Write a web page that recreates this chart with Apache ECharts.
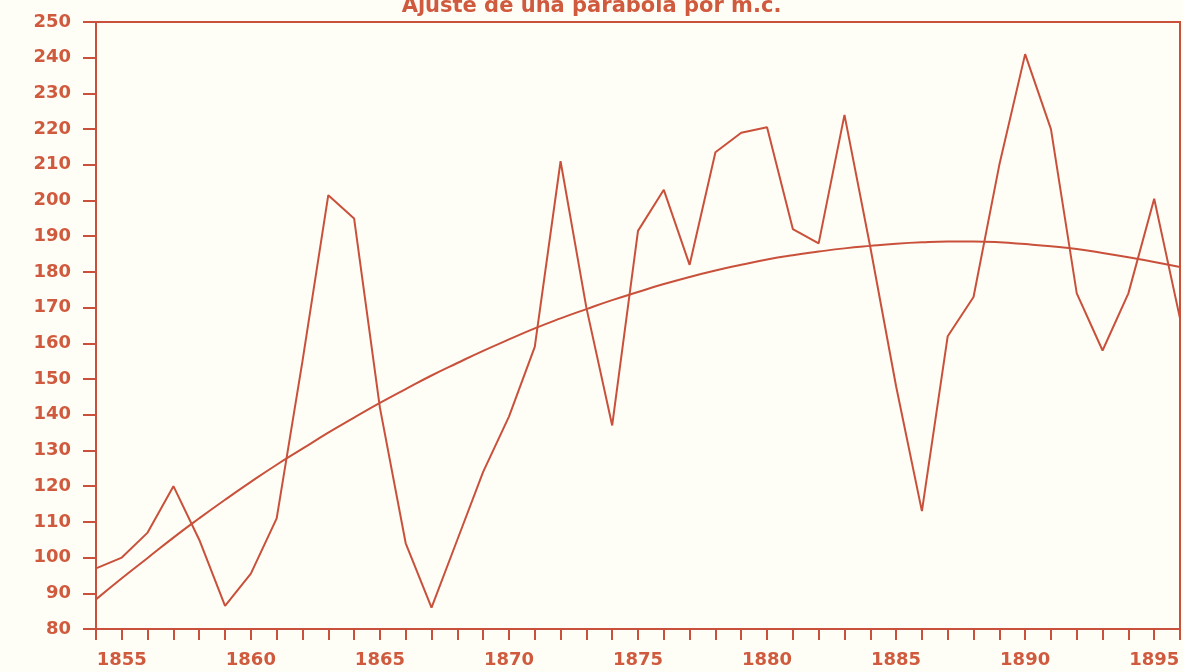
<!DOCTYPE html>
<html>
<head>
<meta charset="utf-8">
<title>Ajuste de una parábola por m.c.</title>
<script src="https://cdn.jsdelivr.net/npm/echarts@6/dist/echarts.min.js"></script>
<style>
  html, body { margin: 0; padding: 0; background: #fefdf6; }
  #main { width: 1183px; height: 672px; }
</style>
</head>
<body>
<div id="main"></div>
<script>
// años 1854 - 1896
var years = [1854, 1855, 1856, 1857, 1858, 1859, 1860, 1861, 1862, 1863,
  1864, 1865, 1866, 1867, 1868, 1869, 1870, 1871, 1872, 1873,
  1874, 1875, 1876, 1877, 1878, 1879, 1880, 1881, 1882, 1883,
  1884, 1885, 1886, 1887, 1888, 1889, 1890, 1891, 1892, 1893,
  1894, 1895, 1896];

// serie observada
var observed = [97, 100, 107, 120, 105, 86.5, 95.5, 111, 155, 201.5,
  195, 142, 104, 86, 105, 124, 139.5, 159, 211, 170,
  137, 191.5, 203, 182, 213.5, 219, 220.5, 192, 188, 224,
  187, 148, 113, 162, 173, 210, 241, 220, 174, 158,
  174, 200.5, 167];

// parábola ajustada
var fitted = [88.3, 94.2, 99.9, 105.6, 111, 116.2, 121.2, 126, 130.5, 135,
  139.2, 143.3, 147.2, 151, 154.5, 157.9, 161.1, 164.2, 167, 169.6,
  172.1, 174.4, 176.6, 178.6, 180.4, 182, 183.5, 184.7, 185.7, 186.6,
  187.3, 187.9, 188.3, 188.5, 188.5, 188.3, 187.8, 187.2, 186.4, 185.3,
  184.1, 182.8, 181.4];

var yMin = 80, yMax = 250, yStep = 10;
var labelStep = 5;

var lineColor = '#c9513b';
var textColor = '#cf5a3e';

var myChart = echarts.init(document.getElementById('main'));

myChart.setOption({
  backgroundColor: '#fefdf6',
  animation: false,
  title: {
    // el título sale cortado por arriba, como en la hoja escaneada
    text: 'Ajuste de una parábola por m.c.',
    left: 'center',
    top: -9,
    textStyle: {
      color: textColor,
      fontFamily: 'DejaVu Sans',
      fontWeight: 'bold',
      fontSize: 21
    }
  },
  grid: {
    left: 96,
    right: 3,
    top: 22,
    bottom: 43,
    show: true,
    borderColor: lineColor,
    borderWidth: 2,
    backgroundColor: 'transparent'
  },
  xAxis: {
    type: 'value',
    min: years[0],
    max: years[years.length - 1],
    interval: 1,
    axisLine: { show: true, lineStyle: { color: lineColor, width: 2 } },
    axisTick: { show: true, inside: false, length: 11, lineStyle: { color: lineColor, width: 2 } },
    splitLine: { show: false },
    axisLabel: {
      margin: 22,
      color: textColor,
      fontFamily: 'DejaVu Sans',
      fontWeight: 'bold',
      fontSize: 18,
      formatter: function (v) {
        return v % labelStep === 0 ? String(v) : '';
      }
    }
  },
  yAxis: {
    type: 'value',
    min: yMin,
    max: yMax,
    interval: yStep,
    axisLine: { show: true, lineStyle: { color: lineColor, width: 2 } },
    axisTick: { show: true, inside: false, length: 13, lineStyle: { color: lineColor, width: 2 } },
    splitLine: { show: false },
    axisLabel: {
      margin: 25,
      color: textColor,
      fontFamily: 'DejaVu Sans',
      fontWeight: 'bold',
      fontSize: 18
    }
  },
  series: [{
    name: 'observada',
    type: 'line',
    symbol: 'none',
    lineStyle: { color: lineColor, width: 2 },
    data: years.map(function (y, i) { return [y, observed[i]]; })
  }, {
    name: 'parábola',
    type: 'line',
    symbol: 'none',
    smooth: true,
    lineStyle: { color: lineColor, width: 2 },
    data: years.map(function (y, i) { return [y, fitted[i]]; })
  }]
});

window.addEventListener('resize', function () {
  myChart.resize();
});
</script>
</body>
</html>
